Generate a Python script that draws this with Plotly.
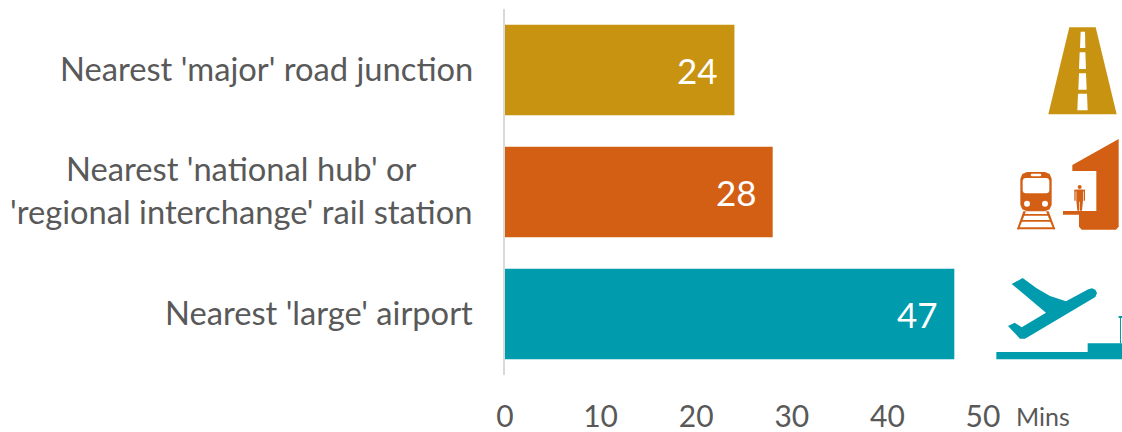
import plotly.graph_objects as go

WIDTH, HEIGHT = 1122, 432

# Travel time data
categories = ["Nearest 'major' road junction",
              "Nearest 'national hub' or<br>'regional interchange' rail station",
              "Nearest 'large' airport"]
minutes = [24, 28, 47]
bar_colors = ["#C89311", "#D35F14", "#009BAD"]
tick_values = [0, 10, 20, 30, 40, 50]
unit_label = "Mins"

TEXT_GREY = "#595959"
FONT = "Lato"
X0, X1 = 505, 983      # horizontal extent of the plot area, px
Y0, Y1 = 9, 375        # vertical extent of the plot area, px


def pts(origin, coords):
    """Scale icon coordinates (drawn on a 3x grid) to paper-space pairs."""
    ox, oy = origin
    return [((ox + x / 3) / WIDTH, 1 - (oy + y / 3) / HEIGHT) for x, y in coords]


def poly(origin, coords, color):
    p = pts(origin, coords)
    path = "M" + " L".join(f"{x:.5f},{y:.5f}" for x, y in p) + " Z"
    return dict(type="path", xref="paper", yref="paper", path=path,
                fillcolor=color, line=dict(width=0), layer="above")


def circle(origin, cx, cy, r, color):
    ox, oy = origin
    px, py = ox + cx / 3, oy + cy / 3
    rr = r / 3
    return dict(type="circle", xref="paper", yref="paper",
                x0=(px - rr) / WIDTH, x1=(px + rr) / WIDTH,
                y0=1 - (py + rr) / HEIGHT, y1=1 - (py - rr) / HEIGHT,
                fillcolor=color, line=dict(width=0), layer="above")


def round_rect(origin, x0, y0, x1, y1, r, color):
    k = r * 0.3
    coords = [(x0 + r, y0), (x1 - r, y0), (x1 - k, y0 + k), (x1, y0 + r),
              (x1, y1 - r), (x1 - k, y1 - k), (x1 - r, y1), (x0 + r, y1),
              (x0 + k, y1 - k), (x0, y1 - r), (x0, y0 + r), (x0 + k, y0 + k)]
    return poly(origin, coords, color)


ROAD, RAIL, AIR = bar_colors
top = (980, 10)
low = (980, 260)
white = "#FFFFFF"

icons = [
    # Road with centre-line dashes
    poly(top, [(268, 52), (347, 52), (410, 313), (205, 313)], ROAD),
    poly(top, [(302, 65), (315, 65), (316, 114), (300, 114)], white),
    poly(top, [(299, 127), (316, 127), (318, 177), (297, 177)], white),
    poly(top, [(297, 190), (318, 190), (320, 239), (295, 239)], white),
    poly(top, [(294, 251), (321, 251), (323, 301), (292, 301)], white),
    # Station canopy and platform
    poly(top, [(416, 387), (416, 650), (408, 659), (305, 659), (297, 650), (297, 614),
               (249, 614), (249, 603), (349, 603), (349, 483), (277, 483), (277, 465)], RAIL),
    # Waiting passenger: head, shoulders, arms, torso and legs
    circle(top, 299, 531, 6, RAIL),
    poly(top, [(283, 539), (315, 539), (315, 544), (283, 544)], RAIL),
    poly(top, [(283, 541), (287, 541), (287, 572), (283, 572)], RAIL),
    poly(top, [(311, 541), (315, 541), (315, 572), (311, 572)], RAIL),
    poly(top, [(289, 539), (309, 539), (309, 572), (306, 602), (300, 602), (300, 575),
               (298, 575), (298, 602), (292, 602), (289, 572)], RAIL),
    # Train front
    round_rect(top, 121, 486, 215, 604, 20, RAIL),
    round_rect(top, 128, 504, 208, 550, 8, white),
    round_rect(top, 152, 491, 184, 499, 4, white),
    circle(top, 141, 581, 9, white),
    circle(top, 195, 581, 9, white),
    # Rails and sleepers
    poly(top, [(130, 604), (138, 604), (117, 658), (111, 658)], RAIL),
    poly(top, [(198, 604), (206, 604), (226, 658), (220, 658)], RAIL),
    poly(top, [(130, 612), (206, 612), (208, 617), (128, 617)], RAIL),
    poly(top, [(124, 630), (212, 630), (214, 635), (122, 635)], RAIL),
    poly(top, [(114, 652), (222, 652), (225, 658), (111, 658)], RAIL),
    # Departing aircraft
    poly(low, [(95, 72), (128, 54), (170, 85), (210, 108), (258, 124), (325, 88), (336, 85),
               (346, 89), (351, 99), (346, 111), (135, 236), (120, 236), (84, 198), (104, 188),
               (125, 202), (198, 158)], AIR),
    # Runway and terminal
    poly(low, [(49, 276), (323, 276), (323, 250), (426, 250), (426, 298), (49, 298)], AIR),
    # Control tower mast
    poly(low, [(415, 168), (426, 168), (426, 174), (423, 174), (423, 250), (420, 250),
               (420, 174), (417, 174)], AIR),
]

annotations = []
# Category labels, centred line by line against a shared right edge
for cat, yc in zip(categories, [0, 1, 2]):
    annotations.append(dict(x=(X0 - 30) / WIDTH, xref="paper", y=yc, yref="y",
                            text=cat, showarrow=False, xanchor="right", align="center",
                            yshift=2,
                            font=dict(family=FONT, size=32.7, color=TEXT_GREY)))
# Value labels inside the bar ends
for cat_i, val in enumerate(minutes):
    annotations.append(dict(x=val, xref="x", y=cat_i, yref="y", text=str(val),
                            showarrow=False, xanchor="right", xshift=-14,
                            font=dict(family=FONT, size=35, color="#FFFFFF")))
# Axis unit
annotations.append(dict(x=1043 / WIDTH, xref="paper", y=1 - 416 / HEIGHT, yref="paper",
                        text=unit_label, showarrow=False, xanchor="center", yanchor="middle",
                        font=dict(family=FONT, size=25, color=TEXT_GREY)))

fig = go.Figure(go.Bar(x=minutes, y=[0, 1, 2], orientation="h",
                       marker=dict(color=bar_colors, line=dict(width=0)), hoverinfo="skip"))

fig.update_layout(
    width=WIDTH, height=HEIGHT, autosize=False,
    margin=dict(l=0, r=0, t=0, b=0),
    paper_bgcolor="white", plot_bgcolor="white",
    bargap=0.26, showlegend=False,
    font=dict(family=FONT, color=TEXT_GREY),
    xaxis=dict(domain=[X0 / WIDTH, X1 / WIDTH], range=[0, 50], tickvals=tick_values,
               automargin=False,
               showgrid=False, zeroline=False, showline=False, ticks="",
               tickfont=dict(family=FONT, size=30, color=TEXT_GREY), ticklabelstandoff=21),
    yaxis=dict(domain=[1 - Y1 / HEIGHT, 1 - Y0 / HEIGHT], range=[2.5, -0.5],
               automargin=False,
               showticklabels=False, showgrid=False, zeroline=False, ticks="",
               showline=True, linecolor="#D9D9D9", linewidth=2),
    shapes=icons,
    annotations=annotations,
)

fig.write_html("out.html")
